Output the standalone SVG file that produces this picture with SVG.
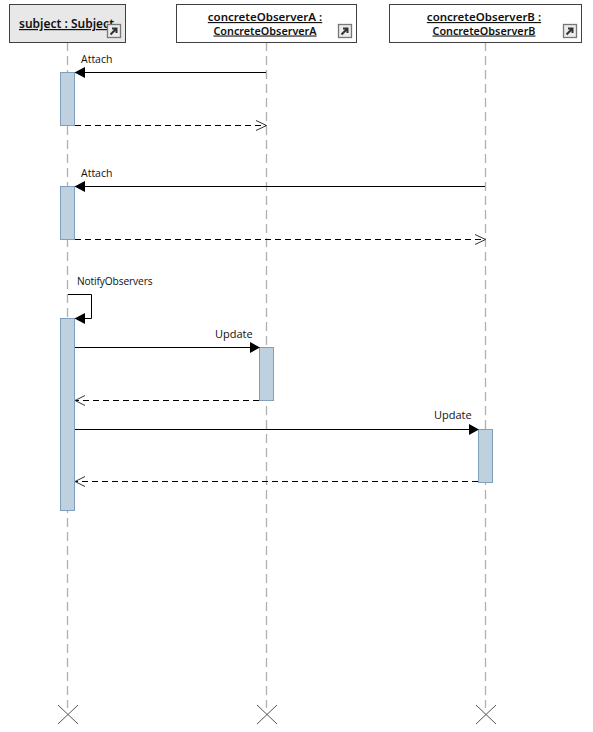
<svg xmlns="http://www.w3.org/2000/svg" width="593" height="732" viewBox="0 0 593 732">
<style>
text{font-family:"Open Sans","Noto Sans","DejaVu Sans",sans-serif;font-size:10px;fill:#111}
.t{font-family:"Noto Sans","DejaVu Sans",sans-serif;font-size:11.500px;font-weight:600;text-anchor:middle;text-decoration:underline;fill:#111}
.t2{font-size:10.800px}
.u{font-size:11px}
.a{font-size:10.500px}
.life{stroke:#b0b0b0;stroke-width:1.3;stroke-dasharray:9 5;fill:none}
.head{stroke:#404040;stroke-width:1;fill:#fff}
.bar{fill:#bfd0de;stroke:#7f9fbc;stroke-width:1}
.m{stroke:#000;stroke-width:1;fill:none}
.d{stroke:#000;stroke-width:1;stroke-dasharray:6 4;fill:none}
.o{stroke:#333;stroke-width:1;fill:none}
.s{fill:#000;stroke:none}
.ic{fill:#ececec;stroke:#777;stroke-width:1.300}
.ar{fill:none;stroke:#333;stroke-width:2}
.x{stroke:#555;stroke-width:1;fill:none}
</style>
<defs>
<g id="link"><rect class="ic" x="0.500" y="0.500" width="13" height="13"/><path class="ar" d="M3.500 10.500 9 5M5 4.500H9.500V9"/></g>
</defs>
<g id="lifelines">
<path class="life" d="M67.500 42V708"/>
<path class="life" d="M266.500 42V708"/>
<path class="life" d="M485.500 42V708"/>
</g>
<g id="subject">
<rect class="head" x="9.500" y="4.500" width="116" height="38" style="fill:#e8e8e8"/>
<text class="t" x="66.500" y="28" style="font-size:12px">subject : Subject</text>
<use href="#link" x="107" y="24"/>
</g>
<g id="concreteObserverA">
<rect class="head" x="176.500" y="4.500" width="180" height="38"/>
<text class="t" x="265" y="21">concreteObserverA :</text>
<text class="t t2" x="265" y="34.500">ConcreteObserverA</text>
<use href="#link" x="338" y="24"/>
</g>
<g id="concreteObserverB">
<rect class="head" x="389.500" y="4.500" width="192" height="38"/>
<text class="t" x="484" y="21">concreteObserverB :</text>
<text class="t t2" x="484" y="34.500">ConcreteObserverB</text>
<use href="#link" x="563" y="24"/>
</g>
<g id="activations">
<rect class="bar" x="60.500" y="72.500" width="14" height="53"/>
<rect class="bar" x="60.500" y="186.500" width="14" height="53"/>
<rect class="bar" x="60.500" y="318.500" width="14" height="192"/>
<rect class="bar" x="259.500" y="347.500" width="14" height="53"/>
<rect class="bar" x="478.500" y="429.500" width="14" height="53"/>
</g>
<g id="connectors">
<path class="m" d="M266 72.500H85"/><path class="s" d="M74.500 72.500 85 67V78Z"/>
<path class="d" d="M75 125.500H266"/><path class="o" d="M256 120.500 266.500 125.500 256 130.500"/>
<path class="m" d="M485 186.500H85"/><path class="s" d="M74.500 186.500 85 181V192Z"/>
<path class="d" d="M75 239.500H485"/><path class="o" d="M475 234.500 485.500 239.500 475 244.500"/>
<path class="m" d="M68 294.500H91.500V318.500H85"/><path class="s" d="M74.500 318.500 85 313V324Z"/>
<path class="m" d="M75 347.500H250"/><path class="s" d="M260 347.500 250 342V353Z"/>
<path class="d" d="M259 400.500H76"/><path class="o" d="M85 395.500 75 400.500 85 405.500"/>
<path class="m" d="M75 429.500H469"/><path class="s" d="M479 429.500 469 424V435Z"/>
<path class="d" d="M478 481.500H76"/><path class="o" d="M85 476.500 75 481.500 85 486.500"/>
</g>
<g id="labels">
<text class="a" x="81" y="63">Attach</text>
<text class="a" x="81" y="177">Attach</text>
<text x="77" y="285" style="font-size:10.200px;letter-spacing:-0.120px">NotifyObservers</text>
<text class="u" x="215" y="338">Update</text>
<text class="u" x="434" y="419">Update</text>
</g>
<g id="ends">
<path class="x" d="M58 705 78 724M78 705 58 724"/>
<path class="x" d="M257 705 277 724M277 705 257 724"/>
<path class="x" d="M476 705 496 724M496 705 476 724"/>
</g>
</svg>
